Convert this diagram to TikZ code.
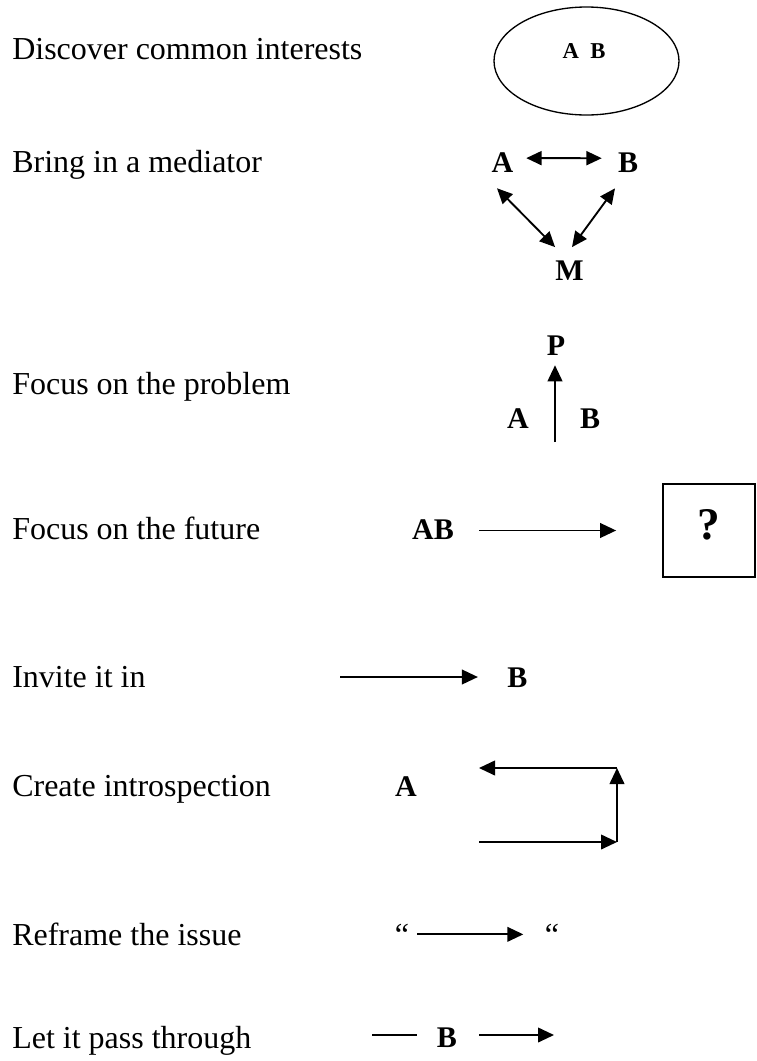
\documentclass[tikz,border=0pt]{standalone}
\usepackage{fontspec}
\setmainfont{Liberation Serif}
\usetikzlibrary{arrows.meta, shapes.geometric}

\tikzset{
  lbl/.style={anchor=base west, inner sep=0pt, font=\fontsize{24}{28}\selectfont},
  ltr/.style={anchor=base, inner sep=0pt, font=\fontsize{22.5}{26}\selectfont\bfseries},
  arr/.style={line width=1.4pt, -{Triangle[length=12pt, width=11pt]}},
  dbl/.style={line width=1.4pt, {Triangle[length=11.5pt, width=10.5pt]}-{Triangle[length=11.5pt, width=10.5pt]}},
  plain/.style={line width=1.4pt}
}

\begin{document}
\begin{tikzpicture}[x=0.75pt, y=-0.75pt]
  \fill[white] (0,0) rectangle (757,1061);

  % left column: the eight phrases
  \node[lbl] (t1) at (12, 59)   {Discover common interests};
  \node[lbl] (t2) at (12, 172)  {Bring in a mediator};
  \node[lbl] (t3) at (12, 394)  {Focus on the problem};
  \node[lbl] (t4) at (12, 539)  {Focus on the future};
  \node[lbl] (t5) at (12, 687)  {Invite it in};
  \node[lbl] (t6) at (12, 796)  {Create introspection};
  \node[lbl] (t7) at (12, 945)  {Reframe the issue};
  \node[lbl] (t8) at (12, 1048) {Let it pass through};

  % common interests: A and B inside one ellipse
  \node[draw, ellipse, line width=1pt, minimum width=138.75pt, minimum height=81pt,
        inner sep=0pt] (common) at (586.5, 61) {};
  \node[ltr, font=\fontsize{17}{20}\selectfont\bfseries] (ab0) at (584, 58) {A~~B};

  % mediator triangle
  \node[ltr] (A1) at (502.5, 172) {A};
  \node[ltr] (B1) at (628, 172)   {B};
  \node[ltr] (M)  at (569.5, 280) {M};
  \draw[dbl, shorten <=9.5pt, shorten >=12pt] ([yshift=3pt]A1.east) -- ([yshift=3pt]B1.west);
  \draw[dbl] ([shift={(-5.5,16)}]A1.south) -- ([shift={(0,-13)}]M.north west);
  \draw[dbl] ([shift={(-13,16)}]B1.south) -- ([shift={(2.5,-13)}]M.north);

  % problem
  \node[ltr] (P)  at (556, 355) {P};
  \node[ltr] (A2) at (518, 428) {A};
  \node[ltr] (B2) at (590, 428) {B};
  \coordinate (pfoot) at (555, 442);
  \draw[arr, shorten >=7.5pt] (pfoot) -- (pfoot |- P.south);

  % future
  \node[ltr] (AB) at (433, 539) {AB};
  \node[draw, line width=1.3pt, minimum width=69pt, minimum height=70pt, inner sep=0pt,
        text depth=9pt, font=\fontsize{34}{40}\selectfont\bfseries] (box) at (709, 530.5) {?};
  \draw[arr, shorten <=19pt, shorten >=34.5pt] (AB.east |- box.west) -- (box.west);

  % invite it in
  \node[ltr] (B3) at (517.5, 687) {B};
  \coordinate (inv) at (340, 677);
  \draw[arr, shorten >=22pt] (inv) -- (inv -| B3.west);

  % introspection loop
  \node[ltr] (A4) at (406, 796) {A};
  \coordinate (lp1) at (479, 842);
  \coordinate (lp2) at (617, 842);
  \coordinate (lp3) at (617, 768);
  \coordinate (lp4) at (479, 768);
  \draw[arr] (lp1) -- (lp2);
  \draw[arr] (lp2) -- (lp3);
  \draw[arr] (lp3) -- (lp4);

  % reframe
  \node[anchor=base, inner sep=0pt, font=\fontsize{24}{28}\selectfont] (q1) at (402, 945) {“};
  \node[anchor=base, inner sep=0pt, font=\fontsize{24}{28}\selectfont] (q2) at (552, 945) {“};
  \draw[arr, shorten <=6pt, shorten >=16pt] (q1.east) -- (q2.west);

  % pass through
  \node[ltr] (B5) at (447, 1047) {B};
  \coordinate (ps1) at (372, 1035);
  \coordinate (ps2) at (554, 1035);
  \draw[plain, shorten >=15pt] (ps1) -- (ps1 -| B5.west);
  \draw[arr, shorten <=16.5pt] (ps2 -| B5.east) -- (ps2);
\end{tikzpicture}
\end{document}
